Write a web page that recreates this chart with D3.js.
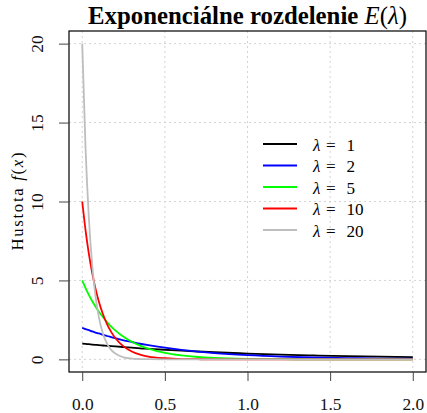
<meta charset="utf-8" />
<script src="https://d3js.org/d3.v7.min.js"></script>
<style>
  body { margin: 0; background: #fff; }
</style>
<div id="chart"></div>
<script>
  // sample points along x
  const xs = [0, 0.02, 0.04, 0.06, 0.08, 0.1, 0.125, 0.15, 0.175, 0.2, 0.25, 0.3,
    0.35, 0.4, 0.5, 0.6, 0.7, 0.8, 1.0, 1.2, 1.4, 1.6, 1.8, 2.0];
  const lambda1 = [1, 0.98, 0.96, 0.94, 0.92, 0.9, 0.88, 0.86, 0.84, 0.82, 0.78, 0.74,
    0.7, 0.67, 0.61, 0.55, 0.5, 0.45, 0.37, 0.3, 0.25, 0.2, 0.17, 0.14];
  const lambda2 = [2, 1.92, 1.85, 1.77, 1.7, 1.64, 1.56, 1.48, 1.41, 1.34, 1.21, 1.1,
    0.99, 0.9, 0.74, 0.6, 0.49, 0.4, 0.27, 0.18, 0.12, 0.08, 0.05, 0.04];
  const lambda5 = [5, 4.52, 4.09, 3.7, 3.35, 3.03, 2.68, 2.36, 2.08, 1.84, 1.43, 1.12,
    0.87, 0.68, 0.41, 0.25, 0.15, 0.09, 0.03, 0.01, 0.005, 0.002, 0.001, 0];
  const lambda10 = [10, 8.19, 6.7, 5.49, 4.49, 3.68, 2.87, 2.23, 1.74, 1.35, 0.82, 0.5,
    0.3, 0.18, 0.07, 0.02, 0.01, 0.003, 0, 0, 0, 0, 0, 0];
  const lambda20 = [20, 13.4, 8.99, 6.02, 4.04, 2.71, 1.64, 1.0, 0.6, 0.37, 0.13, 0.05,
    0.02, 0.01, 0, 0, 0, 0, 0, 0, 0, 0, 0, 0];

  const labels = ['1', '2', '5', '10', '20'];
  const colors = ['#000000', '#0000ff', '#00ff00', '#ff0000', '#bebebe'];
  const xTicks = [0, 0.5, 1, 1.5, 2];
  const yTicks = [0, 5, 10, 15, 20];

  const series = [lambda1, lambda2, lambda5, lambda10, lambda20].map((vals, i) => ({
    label: labels[i],
    color: colors[i],
    values: vals.map((v, j) => ({ x: xs[j], y: v })),
  }));

  const serif = 'Liberation Serif';
  const width = 427, height = 413;
  const box = { left: 69, right: 426, top: 31, bottom: 372 };

  const svg = d3.select('#chart').append('svg')
    .attr('width', width)
    .attr('height', height);

  const x = d3.scaleLinear().domain([-0.08, 2.08]).range([box.left, box.right]);
  const y = d3.scaleLinear().domain([-0.8, 20.8]).range([box.bottom, box.top]);

  // grid
  svg.append('g').selectAll('line').data(xTicks).join('line')
    .attr('x1', d => x(d)).attr('x2', d => x(d))
    .attr('y1', box.top).attr('y2', box.bottom)
    .attr('stroke', '#d3d3d3').attr('stroke-dasharray', '2,3');
  svg.append('g').selectAll('line').data(yTicks).join('line')
    .attr('x1', box.left).attr('x2', box.right)
    .attr('y1', d => y(d)).attr('y2', d => y(d))
    .attr('stroke', '#d3d3d3').attr('stroke-dasharray', '2,3');

  // curves
  const line = d3.line()
    .x(d => x(d.x))
    .y(d => y(d.y))
    .curve(d3.curveMonotoneX);

  svg.append('g').selectAll('path').data(series).join('path')
    .attr('d', d => line(d.values))
    .attr('fill', 'none')
    .attr('stroke', d => d.color)
    .attr('stroke-width', 1.8);

  // box
  svg.append('rect')
    .attr('x', box.left).attr('y', box.top)
    .attr('width', box.right - box.left).attr('height', box.bottom - box.top)
    .attr('fill', 'none').attr('stroke', '#000').attr('stroke-width', 1.2);

  // axes
  const xAxis = svg.append('g')
    .attr('transform', `translate(0,${box.bottom})`)
    .call(d3.axisBottom(x).tickValues(xTicks).tickFormat(d3.format('.1f'))
      .tickSizeOuter(0).tickSize(9));
  xAxis.select('.domain').remove();
  xAxis.selectAll('line').attr('stroke', '#444');
  xAxis.selectAll('text')
    .attr('y', 38).attr('dy', null)
    .attr('fill', '#111');

  const yAxis = svg.append('g')
    .attr('transform', `translate(${box.left},0)`)
    .call(d3.axisLeft(y).tickValues(yTicks).tickSizeOuter(0).tickSize(10));
  yAxis.select('.domain').remove();
  yAxis.selectAll('line').attr('stroke', '#444');
  yAxis.selectAll('text')
    .attr('x', null).attr('dy', null)
    .attr('text-anchor', 'middle')
    .attr('transform', 'translate(-26,0) rotate(-90)')
    .attr('fill', '#111');

  // y title
  const yt = svg.append('text')
    .attr('transform', `translate(22.5,${(box.top + box.bottom) / 2}) rotate(-90)`)
    .attr('text-anchor', 'middle');
  yt.append('tspan').text('Hustota ');
  yt.append('tspan').attr('font-style', 'italic').text('f');
  yt.append('tspan').text('(');
  yt.append('tspan').attr('font-style', 'italic').text('x');
  yt.append('tspan').text(')');

  // title
  const title = svg.append('text')
    .attr('x', (box.left + box.right) / 2)
    .attr('y', 24)
    .attr('text-anchor', 'middle');
  title.append('tspan').attr('font-weight', 'bold').text('Exponenciálne rozdelenie ');
  title.append('tspan').attr('font-style', 'italic').text('E');
  title.append('tspan').text('(');
  title.append('tspan').attr('font-style', 'italic').text('λ');
  title.append('tspan').text(')');

  // legend
  const legend = svg.append('g');
  const rows = legend.selectAll('g').data(series).join('g')
    .attr('transform', (d, i) => `translate(263,${144 + i * 21.5})`);
  rows.append('line')
    .attr('x1', 0).attr('x2', 34)
    .attr('stroke', d => d.color).attr('stroke-width', 1.8);
  const lt = rows.append('text')
    .attr('y', 6.5);
  lt.append('tspan').attr('x', 50).attr('font-style', 'italic').text('λ');
  lt.append('tspan').attr('x', 63).text('=');
  lt.append('tspan').attr('x', 83.5).text(d => d.label);

  // serif face, then sizes; each text gets laid out a few times so the face sticks
  const tickTexts = svg.selectAll('.tick text');
  svg.selectAll('text').style('font-family', serif);
  [0.03, 0.02, 0.01, 0].forEach(delta => {
    tickTexts.attr('font-size', (17.37 + delta).toFixed(3));
    lt.attr('font-size', (17.13 + delta).toFixed(3));
    yt.attr('font-size', (16.73 + delta).toFixed(3));
    title.attr('font-size', (19.07 + delta).toFixed(3));
    svg.selectAll('text').each(function () { this.getComputedTextLength(); });
  });

  // fit the title to the width seen in the picture
  const tLen = title.node().getComputedTextLength();
  const tSize = 19.07 * 319 / tLen;
  [tSize + 0.013, tSize].forEach(s => {
    title.attr('font-size', s.toFixed(3));
    title.node().getComputedTextLength();
  });
  yt.attr('textLength', 98).attr('lengthAdjust', 'spacing');
  yt.node().getComputedTextLength();
</script>
